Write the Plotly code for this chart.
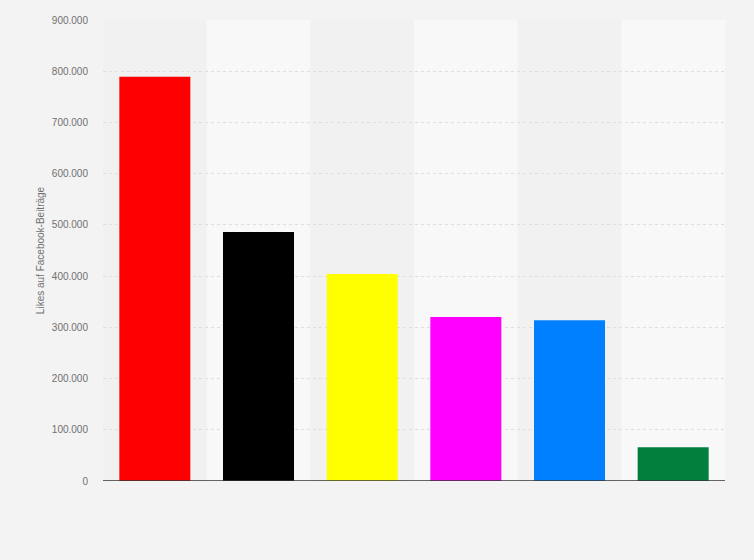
import plotly.graph_objects as go

categories = ["SPD", "CDU", "FDP", "Die Linke", "AfD", "Grüne"]
likes = [789000, 486000, 404000, 320000, 314000, 66000]
colors = ["#ff0000", "#000000", "#ffff00", "#ff00ff", "#0080ff", "#007f3d"]
tick_vals = [0, 100000, 200000, 300000, 400000, 500000, 600000, 700000, 800000, 900000]

fig = go.Figure()
fig.add_trace(go.Bar(
    x=categories, y=likes,
    marker=dict(color=colors, line=dict(width=0)),
    hovertemplate="%{x}: %{y:,}<extra></extra>",
))

for i in range(1, len(categories), 2):
    fig.add_shape(type="rect", xref="x", yref="paper",
                  x0=i - 0.5, x1=i + 0.5, y0=0, y1=1,
                  fillcolor="#f8f8f8", line=dict(width=0), layer="below")

fig.update_layout(
    width=754, height=560,
    margin=dict(l=103, r=29, t=20, b=79),
    paper_bgcolor="#f3f3f3",
    plot_bgcolor="#f1f1f1",
    separators=",.",
    bargap=0.315,
    showlegend=False,
    font=dict(family="Liberation Sans, Arial, sans-serif", color="#707070", size=11),
)
fig.update_xaxes(
    showticklabels=False, showgrid=False, zeroline=False,
    showline=False, range=[-0.5, len(categories) - 0.5],
)
fig.update_yaxes(
    range=[0, 900000], tickvals=tick_vals, tickformat=",",
    showgrid=True, gridcolor="#dedede", griddash="dot", gridwidth=1,
    zeroline=False, showline=False,
    ticklabelstandoff=14,
    tickfont=dict(size=10, color="#707070"),
    title=dict(text="Likes auf Facebook-Beiträge", standoff=5,
               font=dict(size=10, color="#707070")),
)
fig.add_shape(type="line", xref="paper", yref="y", x0=0, x1=1, y0=0, y1=0,
              line=dict(color="#333333", width=1.5))

fig.write_html("out.html", config={"displayModeBar": False},
               post_script="document.body.style.margin='0';document.body.style.background='#f3f3f3';")
